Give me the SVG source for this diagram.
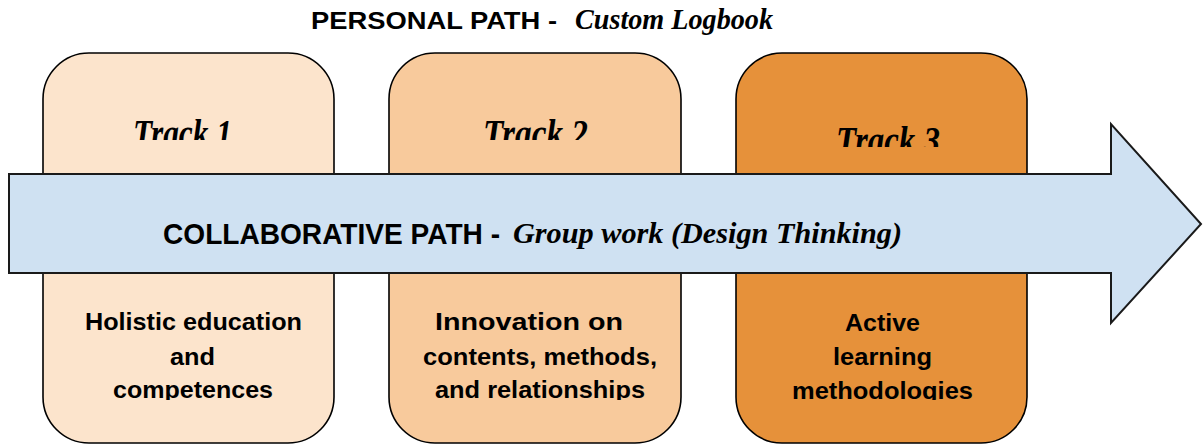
<svg xmlns="http://www.w3.org/2000/svg" width="1203" height="445" viewBox="0 0 1203 445">
  <style>
    .box { stroke: #000; stroke-width: 1.6; }
    .sans { font-family: "Liberation Sans", Arial, sans-serif; font-weight: bold; fill: #000; }
    .script { font-family: "Liberation Serif", "DejaVu Serif", serif; font-style: italic; font-weight: bold; fill: #000; }
    .body { font-size: 24px; }
    .track { font-size: 40px; }
  </style>
  <defs>
    <clipPath id="clipTrackA"><rect x="0" y="0" width="1203" height="140"/></clipPath>
    <clipPath id="clipTrackB"><rect x="0" y="0" width="1203" height="147"/></clipPath>
    <clipPath id="clipBody"><rect x="0" y="280" width="1203" height="120"/></clipPath>
  </defs>

  <rect width="1203" height="445" fill="#fff"/>

  <!-- heading -->
  <g id="title">
    <text class="sans" x="311" y="29" font-size="23" textLength="246" lengthAdjust="spacingAndGlyphs">PERSONAL PATH -</text>
    <text class="script" x="575" y="29" font-size="29" textLength="198" lengthAdjust="spacingAndGlyphs">Custom Logbook</text>
  </g>

  <!-- track 1 -->
  <g id="track1">
    <rect class="box" x="43" y="53" width="291" height="390" rx="46" fill="#FCE4CC"/>
    <text class="script track" x="133" y="147" textLength="99" lengthAdjust="spacingAndGlyphs" clip-path="url(#clipTrackA)">Track 1</text>
    <g class="sans body" clip-path="url(#clipBody)">
      <text x="85" y="330" textLength="217" lengthAdjust="spacingAndGlyphs">Holistic education</text>
      <text x="170" y="365" textLength="45" lengthAdjust="spacingAndGlyphs">and</text>
      <text x="113" y="398" textLength="160" lengthAdjust="spacingAndGlyphs">competences</text>
    </g>
  </g>

  <!-- track 2 -->
  <g id="track2">
    <rect class="box" x="389" y="53" width="292" height="390" rx="46" fill="#F8CA9C"/>
    <text class="script track" x="483" y="147" textLength="105" lengthAdjust="spacingAndGlyphs" clip-path="url(#clipTrackA)">Track 2</text>
    <g class="sans body" clip-path="url(#clipBody)">
      <text x="435" y="330" textLength="188" lengthAdjust="spacingAndGlyphs">Innovation on</text>
      <text x="423" y="365" textLength="234" lengthAdjust="spacingAndGlyphs">contents, methods,</text>
      <text x="435" y="398" textLength="210" lengthAdjust="spacingAndGlyphs">and relationships</text>
    </g>
  </g>

  <!-- track 3 -->
  <g id="track3">
    <rect class="box" x="736" y="53" width="291" height="390" rx="46" fill="#E6913A"/>
    <text class="script track" x="836" y="154" textLength="104" lengthAdjust="spacingAndGlyphs" clip-path="url(#clipTrackB)">Track 3</text>
    <g class="sans body" clip-path="url(#clipBody)">
      <text x="845" y="331" textLength="75" lengthAdjust="spacingAndGlyphs">Active</text>
      <text x="833" y="365" textLength="99" lengthAdjust="spacingAndGlyphs">learning</text>
      <text x="792" y="399" textLength="181" lengthAdjust="spacingAndGlyphs">methodologies</text>
    </g>
  </g>

  <!-- collaborative path arrow across the tracks -->
  <g id="connectors">
    <g id="collaborative-arrow">
      <path d="M9,174 H1111 V124 L1201,224 L1111,323 V273 H9 Z" fill="#CFE1F2" stroke="#1a1a1a" stroke-width="2" stroke-linejoin="miter"/>
      <text class="sans" x="163" y="244" font-size="30" textLength="337" lengthAdjust="spacingAndGlyphs">COLLABORATIVE PATH -</text>
      <text class="script" x="513" y="243" font-size="30" textLength="389" lengthAdjust="spacingAndGlyphs">Group work (Design Thinking)</text>
    </g>
  </g>
</svg>
